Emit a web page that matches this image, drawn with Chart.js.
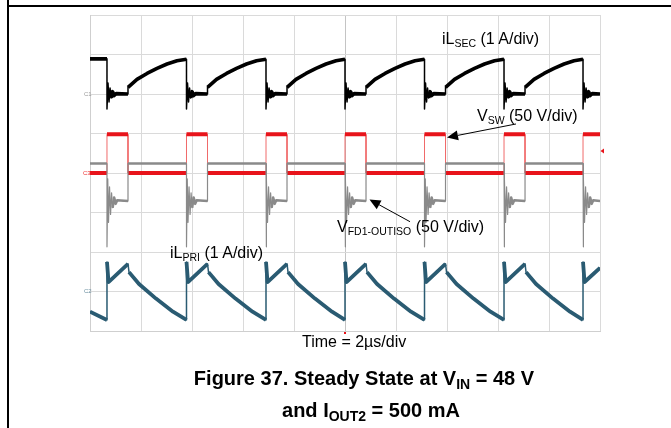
<!DOCTYPE html>
<html>
<head>
<meta charset="utf-8">
<script src="https://cdn.jsdelivr.net/npm/chart.js@4.4.1/dist/chart.umd.min.js"></script>
<style>
  html, body { margin:0; padding:0; background:#fff; }
  #wrap { position:relative; width:671px; height:428px; overflow:hidden; font-family:"Liberation Sans", Arial, sans-serif; }
  canvas { position:absolute; left:0; top:0; }
  .lbl { position:absolute; white-space:nowrap; font-size:16px; line-height:16px; color:#000; }
  .lbl sub { font-size:10.5px; position:relative; top:3px; vertical-align:baseline; line-height:0; }
  .ttl { position:absolute; white-space:nowrap; font-size:20px; line-height:20px; font-weight:bold; color:#000; transform:translateX(-50%); }
  .ttl sub { font-size:14px; position:relative; top:4px; vertical-align:baseline; line-height:0; }
  .ch { position:absolute; font-size:6px; line-height:6px; }
  #vline { position:absolute; left:7px; top:0; width:2px; height:428px; background:#000; }
  #hline { position:absolute; left:7px; top:5px; width:664px; height:2px; background:#000; }
</style>
</head>
<body>
<div id="wrap">
  <canvas id="c" width="671" height="428"></canvas>
  <div id="vline"></div>
  <div id="hline"></div>
  <div class="lbl" style="left:442px; top:31px;">iL<sub>SEC</sub> (1 A/div)</div>
  <div class="lbl" style="left:477px; top:108px;">V<sub>SW</sub> (50 V/div)</div>
  <div class="lbl" style="left:337px; top:219px;">V<sub>FD1-OUTISO</sub> (50 V/div)</div>
  <div class="lbl" style="left:170px; top:245px;">iL<sub>PRI</sub> (1 A/div)</div>
  <div class="lbl" style="left:302px; top:334px;">Time = 2µs/div</div>
  <div class="ttl" style="left:364px; top:368px;">Figure 37. Steady State at V<sub>IN</sub> = 48 V</div>
  <div class="ttl" style="left:371px; top:400px;">and I<sub>OUT2</sub> = 500 mA</div>
  <div class="ch" style="left:84px; top:91px; color:#999;">C1</div>
  <div class="ch" style="left:83px; top:170px; color:#e33;">C3</div>
  <div class="ch" style="left:84px; top:288px; color:#6a8fa0;">C2</div>
</div>
<script>
// Time axis: 10 divisions (2 µs/div); vertical: 8 divisions, values in divisions from the bottom of the screen.
const divisionsX = [0, 10];
const divisionsY = [0, 8];

// iL_SEC (black trace), [time div, level div]
const iLsec = [
  [0,6.89],[0.333,6.89],[0.333,5.62],[0.353,6.28],[0.373,5.80],[0.393,6.15],[0.413,5.90],[0.443,6.06],[0.473,5.96],[0.513,6.01],[0.745,6.00],[0.745,6.17],[0.921,6.37],[1.118,6.52],[1.314,6.65],[1.510,6.76],[1.706,6.84],[1.892,6.88],
  [1.892,5.62],[1.912,6.28],[1.932,5.80],[1.952,6.15],[1.972,5.90],[2.002,6.06],[2.032,5.96],[2.072,6.01],[2.304,6.00],[2.304,6.17],[2.480,6.37],[2.677,6.52],[2.873,6.65],[3.069,6.76],[3.265,6.84],[3.451,6.88],
  [3.451,5.62],[3.471,6.28],[3.491,5.80],[3.511,6.15],[3.531,5.90],[3.561,6.06],[3.591,5.96],[3.631,6.01],[3.863,6.00],[3.863,6.17],[4.039,6.37],[4.236,6.52],[4.432,6.65],[4.628,6.76],[4.824,6.84],[5.000,6.88],
  [5.000,5.62],[5.020,6.28],[5.040,5.80],[5.060,6.15],[5.080,5.90],[5.110,6.06],[5.140,5.96],[5.180,6.01],[5.412,6.00],[5.412,6.17],[5.588,6.37],[5.785,6.52],[5.981,6.65],[6.177,6.76],[6.373,6.84],[6.559,6.88],
  [6.559,5.62],[6.579,6.28],[6.599,5.80],[6.619,6.15],[6.639,5.90],[6.669,6.06],[6.699,5.96],[6.739,6.01],[6.971,6.00],[6.971,6.17],[7.147,6.37],[7.344,6.52],[7.540,6.65],[7.736,6.76],[7.932,6.84],[8.118,6.88],
  [8.118,5.62],[8.138,6.28],[8.158,5.80],[8.178,6.15],[8.198,5.90],[8.228,6.06],[8.258,5.96],[8.298,6.01],[8.530,6.00],[8.530,6.17],[8.706,6.37],[8.903,6.52],[9.099,6.65],[9.295,6.76],[9.491,6.84],[9.667,6.88],
  [9.667,5.62],[9.687,6.28],[9.707,5.80],[9.727,6.15],[9.747,5.90],[9.777,6.06],[9.807,5.96],[9.847,6.01],[10,6.00]
];

// V_SW (red trace)
const vSw = [
  [0,4.0],[0.333,4.0],[0.333,4.98],[0.745,4.98],[0.745,4.0],
  [1.892,4.0],[1.892,4.98],[2.304,4.98],[2.304,4.0],
  [3.451,4.0],[3.451,4.98],[3.863,4.98],[3.863,4.0],
  [5.000,4.0],[5.000,4.98],[5.412,4.98],[5.412,4.0],
  [6.559,4.0],[6.559,4.98],[6.971,4.98],[6.971,4.0],
  [8.118,4.0],[8.118,4.98],[8.530,4.98],[8.530,4.0],
  [9.667,4.0],[9.667,4.98],[10,4.98]
];

// V_FD1-OUTISO (grey trace)
const vFd = [
  [0,4.24],
  [0.333,4.24],[0.333,2.13],[0.348,3.85],[0.363,2.75],[0.383,3.65],[0.403,2.95],[0.423,3.50],[0.443,3.12],[0.473,3.38],[0.503,3.22],[0.533,3.31],[0.745,3.29],[0.745,4.24],
  [1.892,4.24],[1.892,2.13],[1.907,3.85],[1.922,2.75],[1.942,3.65],[1.962,2.95],[1.982,3.50],[2.002,3.12],[2.032,3.38],[2.062,3.22],[2.092,3.31],[2.304,3.29],[2.304,4.24],
  [3.451,4.24],[3.451,2.13],[3.466,3.85],[3.481,2.75],[3.501,3.65],[3.521,2.95],[3.541,3.50],[3.561,3.12],[3.591,3.38],[3.621,3.22],[3.651,3.31],[3.863,3.29],[3.863,4.24],
  [5.000,4.24],[5.000,2.13],[5.015,3.85],[5.030,2.75],[5.050,3.65],[5.070,2.95],[5.090,3.50],[5.110,3.12],[5.140,3.38],[5.170,3.22],[5.200,3.31],[5.412,3.29],[5.412,4.24],
  [6.559,4.24],[6.559,2.13],[6.574,3.85],[6.589,2.75],[6.609,3.65],[6.629,2.95],[6.649,3.50],[6.669,3.12],[6.699,3.38],[6.729,3.22],[6.759,3.31],[6.971,3.29],[6.971,4.24],
  [8.118,4.24],[8.118,2.13],[8.133,3.85],[8.148,2.75],[8.168,3.65],[8.188,2.95],[8.208,3.50],[8.228,3.12],[8.258,3.38],[8.288,3.22],[8.318,3.31],[8.530,3.29],[8.530,4.24],
  [9.667,4.24],[9.667,2.13],[9.682,3.85],[9.697,2.75],[9.717,3.65],[9.737,2.95],[9.757,3.50],[9.777,3.12],[9.807,3.38],[9.837,3.22],[9.867,3.31],[10,3.29]
];

// iL_PRI (blue trace)
const iLpri = [
  [0,0.49],[0.333,0.28],
  [0.333,1.75],[0.363,1.24],[0.745,1.70],[0.765,1.49],[0.961,1.19],[1.294,0.82],[1.627,0.49],[1.892,0.28],
  [1.892,1.75],[1.922,1.24],[2.304,1.70],[2.324,1.49],[2.520,1.19],[2.853,0.82],[3.186,0.49],[3.451,0.28],
  [3.451,1.75],[3.481,1.24],[3.863,1.70],[3.883,1.49],[4.079,1.19],[4.412,0.82],[4.745,0.49],[5.000,0.28],
  [5.000,1.75],[5.030,1.24],[5.412,1.70],[5.432,1.49],[5.628,1.19],[5.961,0.82],[6.294,0.49],[6.559,0.28],
  [6.559,1.75],[6.589,1.24],[6.971,1.70],[6.991,1.49],[7.187,1.19],[7.520,0.82],[7.853,0.49],[8.118,0.28],
  [8.118,1.75],[8.148,1.24],[8.530,1.70],[8.550,1.49],[8.746,1.19],[9.079,0.82],[9.412,0.49],[9.667,0.28],
  [9.667,1.75],[9.697,1.24],[10,1.60]
];

// Annotation arrows (tail -> head), in divisions
const arrowSw = [[8.353,5.241],[7.000,4.899]];
const arrowFd = [[6.275,2.767],[5.480,3.329]];
const triggerLevel = 4.56;
const triggerTime = 5;

// Whole trace as thin line (edges, ringing); the slow parts drawn again thick,
// broken wherever the trace switches or rings (very short time steps).
const thinPts = arr => arr.map(p => ({x:p[0], y:p[1]}));
const thickPts = arr => {
  const out = [];
  arr.forEach((p, i) => {
    if (i > 0 && Math.abs(p[0] - arr[i-1][0]) < 0.025) out.push({x:(p[0] + arr[i-1][0]) / 2, y:null});
    out.push({x:p[0], y:p[1]});
  });
  return out;
};

const lineDs = (data, color, width) => ({
  data, borderColor: color, borderWidth: width, pointRadius: 0,
  tension: 0, borderJoinStyle: 'round', borderCapStyle: 'butt', fill: false, spanGaps: false
});

const overlay = {
  id: 'overlay',
  afterDatasetsDraw(chart) {
    const {ctx, scales:{x, y}} = chart;
    const arrow = (a) => {
      const x0 = x.getPixelForValue(a[0][0]), y0 = y.getPixelForValue(a[0][1]);
      const x1 = x.getPixelForValue(a[1][0]), y1 = y.getPixelForValue(a[1][1]);
      const ang = Math.atan2(y1 - y0, x1 - x0);
      const L = 11, W = 5;
      ctx.save();
      ctx.strokeStyle = '#000'; ctx.lineWidth = 1;
      ctx.beginPath(); ctx.moveTo(x0, y0);
      ctx.lineTo(x1 - L*Math.cos(ang), y1 - L*Math.sin(ang)); ctx.stroke();
      ctx.fillStyle = '#000';
      ctx.beginPath(); ctx.moveTo(x1, y1);
      ctx.lineTo(x1 - L*Math.cos(ang) + W*Math.sin(ang), y1 - L*Math.sin(ang) - W*Math.cos(ang));
      ctx.lineTo(x1 - L*Math.cos(ang) - W*Math.sin(ang), y1 - L*Math.sin(ang) + W*Math.cos(ang));
      ctx.closePath(); ctx.fill();
      ctx.restore();
    };
    arrow(arrowSw);
    arrow(arrowFd);
    const ty = y.getPixelForValue(triggerLevel), rx = x.getPixelForValue(10);
    ctx.save();
    ctx.fillStyle = '#e8141b';
    ctx.beginPath(); ctx.moveTo(rx + 0.5, ty); ctx.lineTo(rx + 4, ty - 2.5); ctx.lineTo(rx + 4, ty + 2.5); ctx.closePath(); ctx.fill();
    const tx = x.getPixelForValue(triggerTime), by = y.getPixelForValue(0);
    ctx.fillRect(tx - 1, by + 1, 2, 2);
    ctx.restore();
  }
};

// Chart.js paints dataset 0 last (on top), so thick copies are listed before thin ones.
new Chart(document.getElementById('c'), {
  type: 'line',
  data: {
    datasets: [
      lineDs(thickPts(iLpri), '#2a5b72', 3.8),
      lineDs(thinPts(iLpri), '#2a5b72', 1.5),
      lineDs(thickPts(iLsec), '#000000', 3.6),
      lineDs(thinPts(iLsec), '#000000', 1.5),
      lineDs(thickPts(vFd), '#8a8a8a', 2.6),
      lineDs(thinPts(vFd), '#8a8a8a', 1.2),
      lineDs(thickPts(vSw), '#e8141b', 4),
      lineDs(thinPts(vSw), '#f06a6a', 1)
    ]
  },
  options: {
    responsive: false,
    animation: false,
    devicePixelRatio: 1,
    layout: { padding: { left: 90, right: 71, top: 15, bottom: 97 } },
    plugins: { legend: { display: false }, tooltip: { enabled: false } },
    scales: {
      x: {
        type: 'linear', min: divisionsX[0], max: divisionsX[1],
        ticks: { display: false, stepSize: 1 },
        grid: { drawTicks: false, color: c => (c.tick && c.tick.value === 5 ? '#c4c4c4' : '#dadada'), lineWidth: 1 },
        border: { display: true, color: '#cfcfcf' }
      },
      y: {
        type: 'linear', min: divisionsY[0], max: divisionsY[1],
        ticks: { display: false, stepSize: 1 },
        grid: { drawTicks: false, color: '#dadada', lineWidth: 1 },
        border: { display: true, color: '#cfcfcf' }
      }
    }
  },
  plugins: [overlay]
});
</script>
</body>
</html>
